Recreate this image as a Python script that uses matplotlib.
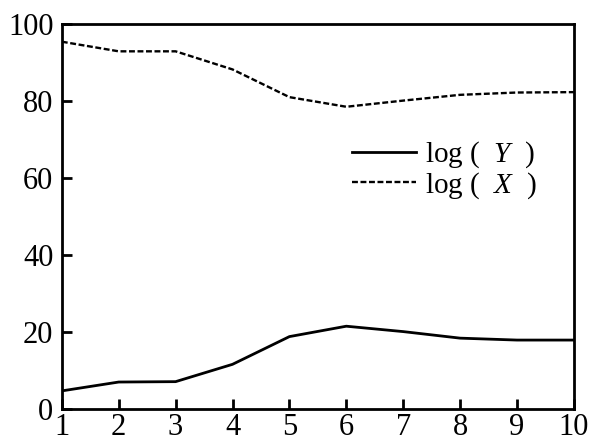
import numpy as np
import matplotlib
matplotlib.use("Agg")
import matplotlib.pyplot as plt

# values
steps = [1, 2, 3, 4, 5, 6, 7, 8, 9, 10]
log_y = [4.7, 7.0, 7.1, 11.6, 18.8, 21.5, 20.1, 18.4, 17.9, 17.9]
log_x = [95.4, 92.9, 92.9, 88.2, 81.0, 78.5, 80.1, 81.6, 82.2, 82.3]
yticks = [0, 20, 40, 60, 80, 100]

plt.rcParams['font.family'] = ['Liberation Serif', 'DejaVu Serif']
plt.rcParams['mathtext.fontset'] = 'custom'
plt.rcParams['mathtext.rm'] = 'Liberation Serif'
plt.rcParams['mathtext.it'] = 'Liberation Serif:italic'

fig = plt.figure(figsize=(6.06, 4.41), dpi=100)
ax = fig.add_axes([0.102, 0.0726, 0.845, 0.873])

ax.plot(steps, log_y, color='black', lw=2.0, label='log (  $Y$  )')
ax.plot(steps, log_x, color='black', lw=1.7, dashes=(2.5, 1.1), label='log (  $X$  )')

ax.set_xlim(1, 10)
ax.set_ylim(0, 100)
ax.set_xticks(steps)
ax.set_yticks(yticks)
for s in ax.spines.values():
    s.set_linewidth(2.0)
ax.tick_params(direction='in', length=7, width=2.0, labelsize=22)
ax.tick_params(axis='x', pad=3)
ax.tick_params(axis='y', pad=6)

ax.legend(loc='center left', bbox_to_anchor=(0.566, 0.62), frameon=False,
          fontsize=21, handlelength=2.2, handletextpad=0.3,
          labelspacing=0.0, borderaxespad=0, borderpad=0)

fig.savefig('out.png', dpi=100)
